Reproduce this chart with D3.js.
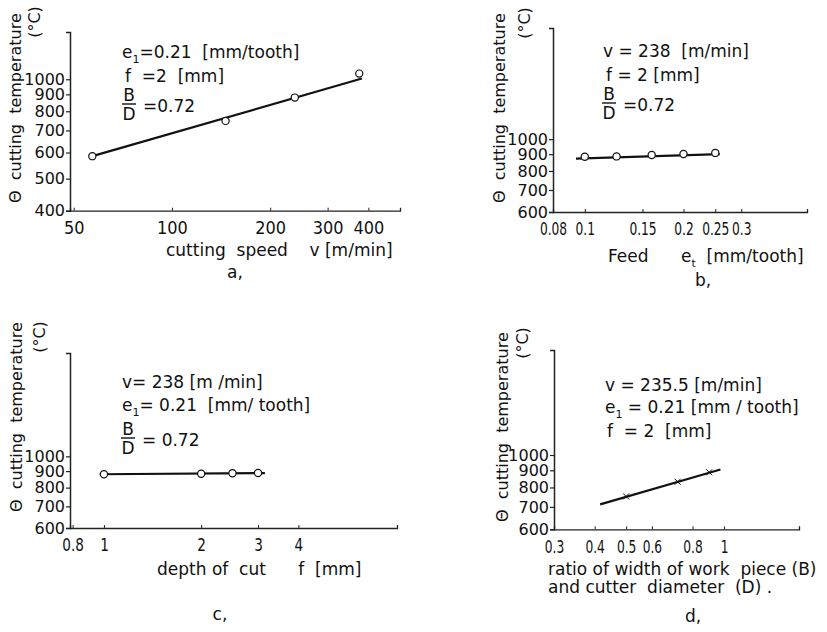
<!DOCTYPE html>
<html>
<head>
<meta charset="utf-8">
<script src="https://cdn.jsdelivr.net/npm/d3@7"></script>
<style>
  body { margin: 0; background: #fff; }
  text { font-family: 'DejaVu Sans', sans-serif; fill: #111; white-space: pre; }
</style>
</head>
<body>
<script>
// panel a - cutting speed
var speedA = [57, 146, 238, 375];
var tempA = [585, 748, 880, 1040];
var fitSpeedA = [56, 382];
var fitTempA = [582, 1005];
var xTicksA = [50, 100, 200, 300, 400];
var yTicksA = [400, 500, 600, 700, 800, 900, 1000];

// panel b - feed
var feedB = [0.1, 0.125, 0.16, 0.2, 0.25];
var tempB = [884, 886, 895, 901, 908];
var fitFeedB = [0.094, 0.258];
var fitTempB = [872, 900];
var xTicksB = [0.08, 0.1, 0.15, 0.2, 0.25, 0.3];
var yTicksB = [600, 700, 800, 900, 1000];

// panel c - depth of cut
var depthC = [1, 2, 2.5, 3];
var tempC = [880, 883, 886, 888];
var fitDepthC = [0.97, 3.15];
var fitTempC = [880, 887];
var xTicksC = [0.8, 1, 2, 3, 4];
var yTicksC = [600, 700, 800, 900, 1000];

// panel d - B/D ratio
var ratioD = [0.5, 0.72, 0.9];
var tempD = [752, 832, 888];
var fitRatioD = [0.416, 0.975];
var fitTempD = [712, 905];
var xTicksD = [0.3, 0.4, 0.5, 0.6, 0.8, 1];
var yTicksD = [600, 700, 800, 900, 1000];

var width = 827, height = 632;
var svg = d3.select("body").append("svg")
    .attr("width", width)
    .attr("height", height);

function fmt(d) { return String(d); }

function panel(o) {
  var g = svg.append("g");
  var x = d3.scaleLog().domain(o.xd).range(o.xr);
  var y = d3.scaleLog().domain(o.yd).range(o.yr);

  // axes
  g.append("g")
      .attr("transform", "translate(0," + o.yr[0] + ")")
      .call(d3.axisBottom(x).tickValues(o.xt).tickFormat(fmt).tickSize(-3).tickPadding(8))
      .call(function(a) {
        a.select(".domain").attr("stroke", "#222").attr("stroke-width", 1.3);
        a.selectAll("line").attr("stroke", "#222").attr("stroke-width", 1);
        a.selectAll("text").attr("font-size", 17).attr("fill", "#111").attr("dy", "0.9em")
            .attr("transform", "scale(" + o.xs + ",1)");
      });
  g.append("g")
      .attr("transform", "translate(" + o.xr[0] + ",0)")
      .call(d3.axisLeft(y).tickValues(o.yt).tickFormat(fmt).tickSize(4).tickPadding(1))
      .call(function(a) {
        a.select(".domain").attr("stroke", "#222").attr("stroke-width", 1.5);
        a.selectAll("line").attr("stroke", "#222").attr("stroke-width", 1.2);
        a.selectAll("text").attr("font-size", 16).attr("fill", "#111");
      });

  // fitted line
  g.append("line")
      .attr("x1", x(o.fx[0])).attr("y1", y(o.fy[0]))
      .attr("x2", x(o.fx[1])).attr("y2", y(o.fy[1]))
      .attr("stroke", "#111").attr("stroke-width", 2.2);

  // measured points
  var pts = d3.zip(o.px, o.py);
  if (o.cross) {
    g.selectAll(".pt").data(pts).enter().append("path")
        .attr("d", "M-3,-3L3,3M-3,3L3,-3")
        .attr("transform", function(d) { return "translate(" + x(d[0]) + "," + y(d[1]) + ")"; })
        .attr("stroke", "#111").attr("stroke-width", 1);
  } else {
    g.selectAll(".pt").data(pts).enter().append("circle")
        .attr("cx", function(d) { return x(d[0]); })
        .attr("cy", function(d) { return y(d[1]); })
        .attr("r", 3.6)
        .attr("fill", "#fff").attr("stroke", "#111").attr("stroke-width", 1.2);
  }

  // y label
  g.append("text")
      .attr("transform", "translate(" + o.yl[0] + "," + o.yl[1] + ") rotate(-90)")
      .attr("font-size", 16)
      .text("\u0398  cutting  temperature");
  g.append("text")
      .attr("transform", "translate(" + o.yu[0] + "," + o.yu[1] + ") rotate(-90)")
      .attr("text-anchor", "middle")
      .attr("font-size", 16)
      .text("(\u00b0C)");

  // panel letter
  g.append("text")
      .attr("x", o.letter[0]).attr("y", o.letter[1])
      .attr("text-anchor", "middle")
      .attr("font-size", 17)
      .text(o.letter[2]);
  return g;
}

// text line, {sub: ".."} parts are set as subscripts
function line(g, px, py, parts) {
  var t = g.append("text").attr("x", px).attr("y", py).attr("font-size", 17);
  var shift = 0;
  parts.forEach(function(p) {
    if (typeof p === "string") {
      t.append("tspan").attr("dy", -shift).text(p);
      shift = 0;
    } else {
      t.append("tspan").attr("dy", 5).attr("font-size", 11).text(p.sub);
      shift = 5;
    }
  });
  return t;
}

function fraction(g, cx, cy, rest) {
  g.append("text").attr("x", cx).attr("y", cy - 3).attr("text-anchor", "middle").attr("font-size", 17).text("B");
  g.append("line").attr("x1", cx - 7).attr("x2", cx + 7).attr("y1", cy).attr("y2", cy)
      .attr("stroke", "#111").attr("stroke-width", 1.4);
  g.append("text").attr("x", cx).attr("y", cy + 16).attr("text-anchor", "middle").attr("font-size", 17).text("D");
  g.append("text").attr("x", cx + 14).attr("y", cy + 8).attr("font-size", 17).text(rest);
}

// a
var ga = panel({
  xd: [48.7, 500], xr: [70, 400], yd: [400, 1390], yr: [210.7, 32], xs: 0.95,
  xt: xTicksA, yt: yTicksA, fx: fitSpeedA, fy: fitTempA, px: speedA, py: tempA,
  yl: [21, 203], yu: [40, 22], letter: [235, 278, "a,"]
});
line(ga, 122, 58, ["e", {sub: "1"}, "=0.21  [mm/tooth]"]);
line(ga, 125, 82, ["f  =2  [mm]"]);
fraction(ga, 129, 104, "=0.72");
line(ga, 166, 256, ["cutting  speed    v [m/min]"]);

// b
var gb = panel({
  xd: [0.08, 0.476], xr: [553, 807], yd: [600, 2180], yr: [212, 28], xs: 0.72,
  xt: xTicksB, yt: yTicksB, fx: fitFeedB, fy: fitTempB, px: feedB, py: tempB,
  yl: [505, 203], yu: [530, 23], letter: [703, 286, "b,"]
});
line(gb, 603, 57, ["v = 238  [m/min]"]);
line(gb, 606, 81, ["f = 2 [mm]"]);
fraction(gb, 609, 103, "=0.72");
line(gb, 608, 262, ["Feed      e", {sub: "t"}, "  [mm/tooth]"]);

// c
var gc = panel({
  xd: [0.785, 8.08], xr: [70, 397], yd: [600, 2088], yr: [528, 353], xs: 0.8,
  xt: xTicksC, yt: yTicksC, fx: fitDepthC, fy: fitTempC, px: depthC, py: tempC,
  yl: [22, 512], yu: [45, 337], letter: [220, 620, "c,"]
});
line(gc, 122, 388, ["v= 238 [m /min]"]);
line(gc, 122, 411, ["e", {sub: "1"}, "= 0.21  [mm/ tooth]"]);
fraction(gc, 128, 438, "= 0.72");
line(gc, 157, 575, ["depth of  cut      f  [mm]"]);

// d
var gd = panel({
  xd: [0.3, 1.70], xr: [554, 799], yd: [600, 2058], yr: [529.3, 350], xs: 0.72,
  xt: xTicksD, yt: yTicksD, fx: fitRatioD, fy: fitTempD, px: ratioD, py: tempD, cross: true,
  yl: [508, 522], yu: [528, 343], letter: [693, 622, "d,"]
});
line(gd, 605, 391, ["v = 235.5 [m/min]"]);
line(gd, 605, 413, ["e", {sub: "1"}, " = 0.21 [mm / tooth]"]);
line(gd, 607, 437, ["f  = 2  [mm]"]);
line(gd, 548, 575, ["ratio of width of work  piece (B)"]);
line(gd, 548, 593, ["and cutter  diameter  (D) ."]);
</script>
</body>
</html>
